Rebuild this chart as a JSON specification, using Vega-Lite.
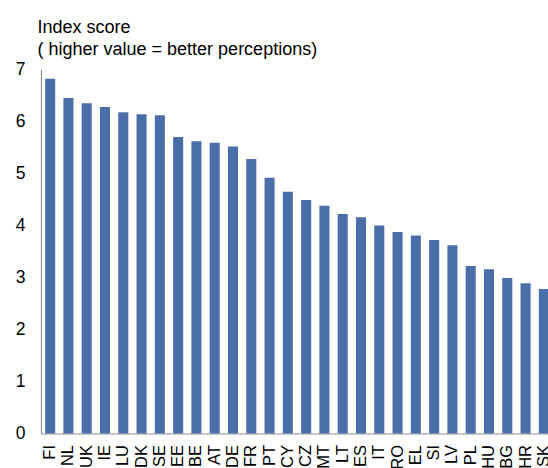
{
  "$schema": "https://vega.github.io/schema/vega-lite/v6.json",
  "autosize": "none",
  "width": 512,
  "height": 364,
  "padding": {"left": 41, "top": 69.5, "right": 0, "bottom": 34.5},
  "background": "white",
  "config": {"view": {"stroke": null}, "font": "Liberation Sans"},
  "data": {"values": [
    {"country": "FI", "score": 6.82},
    {"country": "NL", "score": 6.45},
    {"country": "UK", "score": 6.35},
    {"country": "IE", "score": 6.28},
    {"country": "LU", "score": 6.18},
    {"country": "DK", "score": 6.14},
    {"country": "SE", "score": 6.12},
    {"country": "EE", "score": 5.70},
    {"country": "BE", "score": 5.62},
    {"country": "AT", "score": 5.59},
    {"country": "DE", "score": 5.52},
    {"country": "FR", "score": 5.28},
    {"country": "PT", "score": 4.92},
    {"country": "CY", "score": 4.65},
    {"country": "CZ", "score": 4.49},
    {"country": "MT", "score": 4.38},
    {"country": "LT", "score": 4.22},
    {"country": "ES", "score": 4.16},
    {"country": "IT", "score": 4.00},
    {"country": "RO", "score": 3.875},
    {"country": "EL", "score": 3.81},
    {"country": "SI", "score": 3.72},
    {"country": "LV", "score": 3.62},
    {"country": "PL", "score": 3.22},
    {"country": "HU", "score": 3.16},
    {"country": "BG", "score": 2.99},
    {"country": "HR", "score": 2.89},
    {"country": "SK", "score": 2.78}
  ]},
  "mark": {"type": "bar", "color": "#4A6FA8"},
  "encoding": {
    "x": {
      "field": "country", "type": "nominal", "sort": null,
      "scale": {"paddingInner": 0.45, "paddingOuter": 0.225},
      "axis": {
        "title": null, "labelAngle": -90, "labelAlign": "right", "labelBaseline": "middle",
        "labelFontSize": 16.5, "labelColor": "#000000", "labelPadding": 11,
        "labelOffset": 0, "ticks": false, "tickSize": 0,
        "domainColor": "#8C8C8C", "domainWidth": 1.2, "labelOverlap": false
      }
    },
    "y": {
      "field": "score", "type": "quantitative",
      "scale": {"domain": [0, 7], "nice": false},
      "axis": {
        "values": [0, 1, 2, 3, 4, 5, 6, 7], "grid": false, "ticks": false, "tickSize": 0,
        "labelFontSize": 17.5, "labelColor": "#000000", "labelPadding": 16,
        "domainColor": "#8C8C8C", "domainWidth": 1.2,
        "title": ["Index score", "( higher value = better perceptions)"],
        "titleAngle": 0, "titleAlign": "left", "titleBaseline": "alphabetic",
        "titleX": -4, "titleY": -37.5, "titleFontSize": 18, "titleFontWeight": "normal",
        "titleColor": "#000000", "titleLineHeight": 22
      }
    }
  }
}
